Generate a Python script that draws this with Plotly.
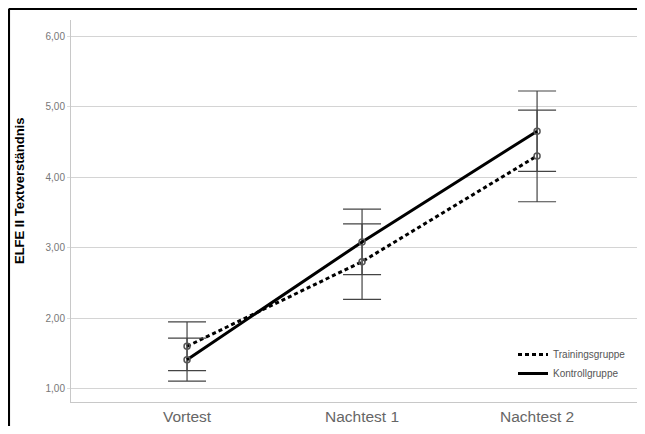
import plotly.graph_objects as go

categories = ["Vortest", "Nachtest 1", "Nachtest 2"]
training_mean = [1.60, 2.80, 4.30]
training_err = [0.345, 0.535, 0.65]
kontroll_mean = [1.41, 3.08, 4.65]
kontroll_err = [0.305, 0.465, 0.57]
ytick_vals = [1, 2, 3, 4, 5, 6]
ytick_text = ["1,00", "2,00", "3,00", "4,00", "5,00", "6,00"]

# page has an 8px body margin; keep the figure inside the window (no scrollbars)
W, H = 629, 418
L, T, B = 63, 12, 24
PW, PH = W - L, H - T - B

def px(x):
    return (x - L) / PW

def py(y):
    return (H - B - y) / PH

fig = go.Figure()

groups = [
    ("Trainingsgruppe", training_mean, training_err, "4px,3px"),
    ("Kontrollgruppe", kontroll_mean, kontroll_err, "solid"),
]
for name, mean, err, dash in groups:
    fig.add_trace(go.Scatter(
        x=categories, y=mean, name=name, mode="lines",
        line=dict(color="black", width=3, dash=dash),
        error_y=dict(type="data", array=err, visible=True,
                     color="#444444", thickness=1.2, width=19),
    ))
for name, mean, err, dash in groups:
    fig.add_trace(go.Scatter(
        x=categories, y=mean, mode="markers", showlegend=False,
        marker=dict(symbol="circle-open", size=6, color="#555555",
                    line=dict(width=1.5)),
    ))

fig.update_layout(
    width=W, height=H,
    margin=dict(l=L, r=0, t=T, b=B, autoexpand=False),
    paper_bgcolor="white", plot_bgcolor="white",
    font=dict(family="Liberation Sans, Arial, sans-serif"),
    xaxis=dict(
        type="category", range=[-0.663, 2.571], automargin=False,
        showgrid=False, showline=True, linecolor="#c8c8c8", linewidth=1,
        tickfont=dict(size=15.5, color="#666666"), ticks="",
        zeroline=False,
    ),
    yaxis=dict(
        range=[0.81, 6.227], tickvals=ytick_vals, ticktext=ytick_text,
        automargin=False,
        showgrid=True, gridcolor="#d4d4d4", gridwidth=1,
        showline=True, linecolor="#c8c8c8", linewidth=1,
        ticks="outside", ticklen=3, tickcolor="#dddddd",
        tickfont=dict(size=10, color="#777777"), zeroline=False,
    ),
    legend=dict(
        x=px(505), y=py(332), xanchor="left", yanchor="top",
        font=dict(size=10, color="#555555"), bgcolor="rgba(0,0,0,0)",
        tracegroupgap=0,
    ),
    annotations=[dict(
        text="<b>ELFE II Textverständnis</b>", textangle=-90,
        xref="paper", yref="paper", x=px(12), y=py(183),
        xanchor="center", yanchor="middle", showarrow=False,
        font=dict(size=13, color="black"),
    )],
    shapes=[
        dict(type="line", xref="paper", yref="paper",
             x0=px(0.8), x1=1.2, y0=py(0.8), y1=py(0.8),
             line=dict(color="black", width=2.5), layer="above"),
        dict(type="line", xref="paper", yref="paper",
             x0=px(0.8), x1=px(0.8), y0=-0.2, y1=py(0.8),
             line=dict(color="black", width=2.5), layer="above"),
    ],
)

fig.write_html("out.html")
